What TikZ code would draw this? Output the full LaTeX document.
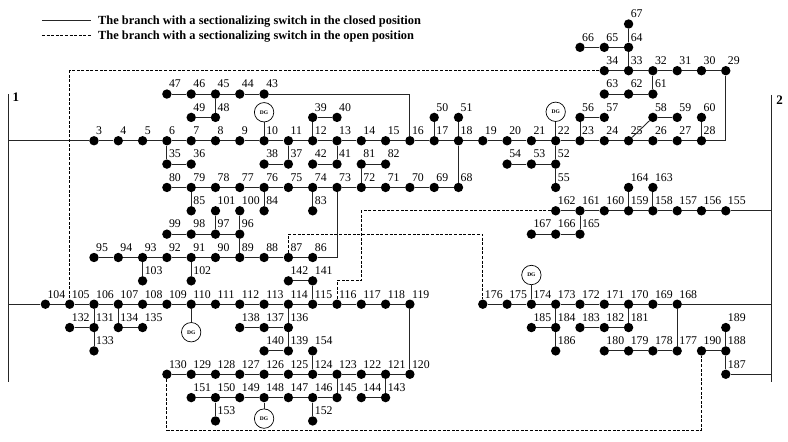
\documentclass[tikz,border=0pt]{standalone}
\usepackage{fontspec}
\setmainfont{Liberation Serif}
\usepackage{tikz}

\begin{document}
\begin{tikzpicture}[x=24.3pt,y=-23.35pt,
    bus/.style={circle,fill,inner sep=0pt,minimum size=9.4pt},
    lbl/.style={anchor=base west,inner sep=0pt,xshift=2pt,yshift=6.2pt,font=\fontsize{11.8}{12}\selectfont},
    feed/.style={line width=0.9pt,black!85},
    openbr/.style={line width=0.8pt,dash pattern=on 3pt off 1.6pt},
    dg/.style={circle,draw,fill=white,line width=0.7pt,minimum size=19.4pt,inner sep=0pt,font=\fontsize{5.5}{6}\selectfont\bfseries},
    legtxt/.style={anchor=base west,inner sep=0pt,font=\fontsize{12.4}{13}\selectfont\bfseries},
    buslbl/.style={anchor=base west,inner sep=0pt,font=\fontsize{13}{14}\selectfont\bfseries}]
  \useasboundingbox (-3.868,-1.028) rectangle (28.560,17.859);

  % legend
  \draw[feed] (-2.14,-0.17) -- (-0.12,-0.17);
  \node[legtxt] at (0.165,0.013) {The branch with a sectionalizing switch in the closed position};
  \draw[openbr] (-2.14,0.5) -- (-0.12,0.5);
  \node[legtxt] at (0.165,0.685) {The branch with a sectionalizing switch in the open position};

  % substations 1 and 2
  \coordinate (B1t) at (-3.527,3);
  \coordinate (B1b) at (-3.527,15.32);
  \coordinate (B2t) at (27.89,3.04);
  \coordinate (B2b) at (27.89,15.32);
  \draw[feed] (B1t) -- (B1b);
  \draw[feed] (B2t) -- (B2b);
  \node[buslbl] at (-3.36,3.34) {1};
  \node[buslbl] at (28.07,3.43) {2};

  % buses
  \foreach \n in {3,...,28}{
    \node[bus] (b\n) at ({\n-3},5) {};
    \node[lbl] at (b\n) {\n};
  }
  \foreach \n in {104,...,119}{
    \node[bus] (b\n) at ({\n-106},12) {};
    \node[lbl] at (b\n) {\n};
  }
  \foreach \n in {120,...,130}{
    \node[bus] (b\n) at ({133-\n},15) {};
    \node[lbl] at (b\n) {\n};
  }
  \foreach \n/\c/\r in {67/22/0, 66/20/1, 65/21/1, 64/22/1,
      34/21/2, 33/22/2, 32/23/2, 31/24/2, 30/25/2, 29/26/2,
      47/3/3, 46/4/3, 45/5/3, 44/6/3, 43/7/3, 63/21/3, 62/22/3, 61/23/3,
      49/4/4, 48/5/4, 39/9/4, 40/10/4, 50/14/4, 51/15/4, 56/20/4, 57/21/4,
      58/23/4, 59/24/4, 60/25/4,
      35/3/6, 36/4/6, 38/7/6, 37/8/6, 42/9/6, 41/10/6, 81/11/6, 82/12/6,
      54/17/6, 53/18/6, 52/19/6,
      80/3/7, 79/4/7, 78/5/7, 77/6/7, 76/7/7, 75/8/7, 74/9/7, 73/10/7,
      72/11/7, 71/12/7, 70/13/7, 69/14/7, 68/15/7, 55/19/7, 164/22/7, 163/23/7,
      85/4/8, 101/5/8, 100/6/8, 84/7/8, 83/9/8, 162/19/8, 161/20/8, 160/21/8,
      159/22/8, 158/23/8, 157/24/8, 156/25/8, 155/26/8,
      99/3/9, 98/4/9, 97/5/9, 96/6/9, 167/18/9, 166/19/9, 165/20/9,
      95/0/10, 94/1/10, 93/2/10, 92/3/10, 91/4/10, 90/5/10, 89/6/10,
      88/7/10, 87/8/10, 86/9/10,
      103/2/11, 102/4/11, 142/8/11, 141/9/11,
      176/16/12, 175/17/12, 174/18/12, 173/19/12, 172/20/12, 171/21/12,
      170/22/12, 169/23/12, 168/24/12,
      132/-1/13, 131/0/13, 134/1/13, 135/2/13, 138/6/13, 137/7/13, 136/8/13,
      185/18/13, 184/19/13, 183/20/13, 182/21/13, 181/22/13, 189/26/13,
      133/0/14, 140/7/14, 139/8/14, 154/9/14, 186/19/14, 180/21/14,
      179/22/14, 178/23/14, 177/24/14, 190/25/14, 188/26/14,
      187/26/15,
      151/4/16, 150/5/16, 149/6/16, 148/7/16, 147/8/16, 146/9/16,
      145/10/16, 144/11/16, 143/12/16,
      153/5/17, 152/9/17}{
    \node[bus] (b\n) at (\c,\r) {};
    \node[lbl] at (b\n) {\n};
  }

  % DG units
  \foreach \n/\r in {10/3.78, 22/3.76, 174/10.75, 110/13.2, 148/16.9}{
    \node[dg] (dg\n) at (b\n |- 0,\r) {DG};
    \draw[feed] (dg\n) -- (b\n);
  }

  % closed branches: runs of consecutive buses
  \foreach \s/\e in {3/28, 29/34, 43/47, 52/54, 61/63, 64/66, 68/80, 86/95,
      104/119, 120/130, 145/151, 155/162, 165/167, 168/176, 177/180, 181/183}{
    \pgfmathtruncatemacro\z{\e-1}
    \foreach \a in {\s,...,\z}{
      \pgfmathtruncatemacro\b{\a+1}
      \draw[feed] (b\a) -- (b\b);
    }
  }
  % closed branches: the rest
  \foreach \a/\b in {6/35, 35/36, 11/37, 37/38, 13/41, 41/42, 45/48, 48/49,
      12/39, 39/40, 17/50, 18/51, 23/56, 56/57, 25/58, 58/59, 28/60, 32/61,
      33/64, 64/67, 22/52, 52/55, 18/68, 72/81, 81/82, 79/85, 76/84, 74/83,
      89/96, 96/100, 96/97, 97/98, 98/99, 97/101, 93/103, 91/102, 115/141,
      141/142, 106/131, 131/132, 131/133, 107/134, 134/135, 114/136, 136/137,
      137/138, 136/139, 139/140, 119/120, 124/154, 123/145, 150/153, 146/152,
      121/143, 143/144, 159/164, 158/163, 161/165, 173/184, 184/185, 184/186,
      170/181, 168/177, 190/188, 188/189, 188/187}
    \draw[feed] (b\a) -- (b\b);
  \draw[feed] (b28) -- (b28 -| b29) -- (b29);
  \draw[feed] (b43) -- (b43 -| b16) -- (b16);
  \draw[feed] (b73) -- (b73 |- b86) -- (b86);

  % feeders to the substations
  \draw[feed] (b3) -- (b3 -| B1t);
  \draw[feed] (b104) -- (b104 -| B1t);
  \draw[feed] (b155) -- (b155 -| B2t);
  \draw[feed] (b168) -- (b168 -| B2t);
  \draw[feed] (b187) -- (b187 -| B2t);

  % open tie branches
  \coordinate (tieS) at (3,17.39);
  \draw[openbr] (b34) -- (b34 -| b105) -- (b105);
  \draw[openbr] (b87) -- (b87 |- b97) -- (b176 |- b97) -- (b176);
  \draw[openbr] (b162) -- (b162 -| b72) -- (b72 |- b142) -- (b116 |- b142) -- (b116);
  \draw[openbr] (b130) -- (tieS) -- (tieS -| b190) -- (b190);
\end{tikzpicture}
\end{document}
